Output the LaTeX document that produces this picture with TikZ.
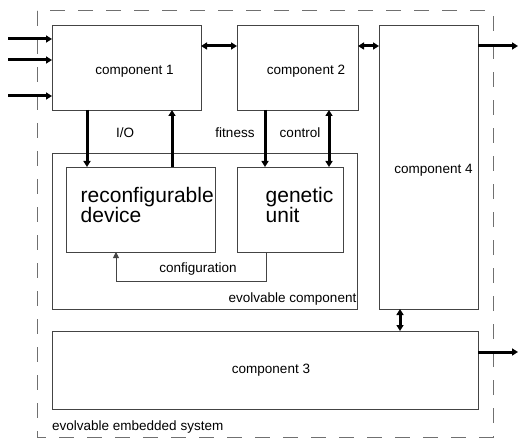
\documentclass[tikz,border=0pt]{standalone}
\usepackage{fontspec}
\setmainfont{Liberation Sans}
\usetikzlibrary{arrows.meta}
\definecolor{boxgray}{HTML}{444444}
\definecolor{dashgray}{HTML}{707070}
\tikzset{
  box/.style={draw=boxgray, line width=0.9pt},
  thickarrow/.style={line width=3pt, -{Triangle[length=6pt,width=7pt]}},
  thickdbl/.style={line width=3pt, {Triangle[length=6pt,width=7pt]}-{Triangle[length=6pt,width=7pt]}},
  thinarrow/.style={draw=boxgray, line width=0.9pt, -{Triangle[length=6pt,width=6pt]}},
  small/.style={font=\fontsize{13.5}{16}\selectfont, inner sep=0pt},
  big/.style={font=\fontsize{21}{20}\selectfont, inner sep=0pt, align=left},
  outer/.style={draw=dashgray, line width=1pt, dash pattern=on 15pt off 13pt}
}
\begin{document}
\begin{tikzpicture}[x=1pt,y=-1pt]
\useasboundingbox (0,0) rectangle (518,438);
% outer system
\draw[outer] (37,11) rectangle (493,437);
% boxes as coordinates
\coordinate (c1nw) at (52,25);   \coordinate (c1se) at (201,110);
\coordinate (c2nw) at (237,25);  \coordinate (c2se) at (358,110);
\coordinate (c4nw) at (379,25);  \coordinate (c4se) at (478,309);
\coordinate (ecnw) at (52,153);  \coordinate (ecse) at (357,309);
\coordinate (rdnw) at (66,167);  \coordinate (rdse) at (215,252);
\coordinate (gunw) at (237,167); \coordinate (guse) at (343,252);
\coordinate (c3nw) at (52,331);  \coordinate (c3se) at (478,409);
\draw[box] (c1nw) rectangle (c1se);
\draw[box] (c2nw) rectangle (c2se);
\draw[box] (c4nw) rectangle (c4se);
\draw[box] (ecnw) rectangle (ecse);
\draw[box] (rdnw) rectangle (rdse);
\draw[box] (gunw) rectangle (guse);
\draw[box] (c3nw) rectangle (c3se);
% texts
\node[small, anchor=base] (t1) at (134.5,75) {component 1};
\node[small, anchor=base] (t2) at (306,75) {component 2};
\node[small, anchor=base] (t4) at (433.5,174) {component 4};
\node[small, anchor=base] (t3) at (271,373) {component 3};
\node[small, anchor=base] (tio) at (125,138) {I/O};
\node[small, anchor=base] (tfit) at (235,138) {fitness};
\node[small, anchor=base] (tctl) at (300,138) {control};
\node[small, anchor=base] (tconf) at (198,272.5) {configuration};
\node[small, anchor=base east] (tec) at (356.5,302) {evolvable component};
\node[small, anchor=base west] (tes) at (52,430) {evolvable embedded system};
\node[big, anchor=north west] (trd) at (80.5,187.5) {reconfigurable\\device};
\node[big, anchor=north west] (tgu) at (265.5,187.5) {genetic\\unit};
% input arrows
\coordinate (in1) at (8,39); \coordinate (in2) at (8,60); \coordinate (in3) at (8,96);
\draw[thickarrow] (in1) -- (in1 -| c1nw);
\draw[thickarrow] (in2) -- (in2 -| c1nw);
\draw[thickarrow] (in3) -- (in3 -| c1nw);
% horizontal links
\coordinate (h12) at (0,46);
\draw[thickdbl] (h12 -| c1se) -- (h12 -| c2nw);
\draw[thickdbl] (h12 -| c2se) -- (h12 -| c4nw);
\coordinate (out4) at (518,46);
\draw[thickarrow] (out4 -| c4se) -- (out4);
\coordinate (out3) at (518,352);
\draw[thickarrow] (out3 -| c3se) -- (out3);
% c4 - c3
\coordinate (v43) at (400,0);
\draw[thickdbl] (v43 |- c4se) -- (v43 |- c3nw);
% I/O
\coordinate (io1) at (87,0); \coordinate (io2) at (172,0);
\draw[thickarrow] (io1 |- c1se) -- (io1 |- rdnw);
\draw[thickarrow] (io2 |- rdnw) -- (io2 |- c1se);
% fitness / control
\coordinate (fit) at (265,0); \coordinate (ctl) at (329,0);
\draw[thickarrow] (fit |- c2se) -- (fit |- gunw);
\draw[thickdbl] (ctl |- c2se) -- (ctl |- gunw);
% configuration
\coordinate (cf1) at (266,281); \coordinate (cf2) at (116,281);
\draw[thinarrow] (cf1 |- guse) -- (cf1) -- (cf2) -- (cf2 |- rdse);
\end{tikzpicture}
\end{document}
